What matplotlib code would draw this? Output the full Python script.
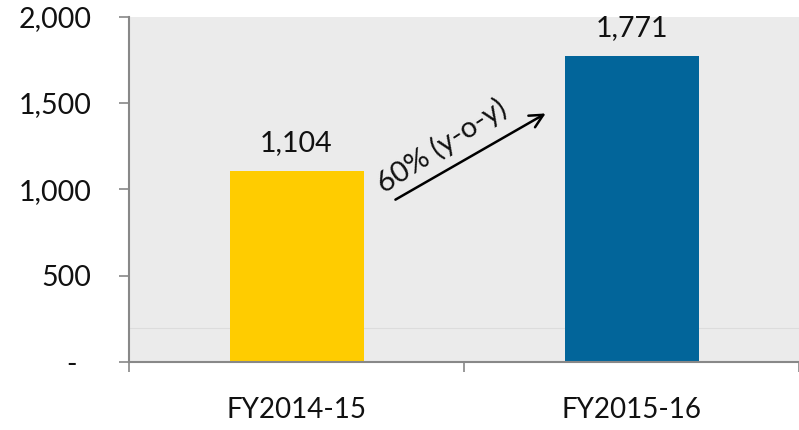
import matplotlib.pyplot as plt

years = ["FY2014-15", "FY2015-16"]
values = [1104, 1771]
colors = ["#FFCC00", "#02659A"]
yticks = [0, 500, 1000, 1500, 2000]
ytick_labels = ["-  ", "500", "1,000", "1,500", "2,000"]

plt.rcParams['font.family'] = ['Lato', 'DejaVu Sans']

fig = plt.figure(figsize=(7.99, 4.30), dpi=100)
ax = fig.add_axes([0.1615, 0.158, 0.8385, 0.8036])
ax.set_facecolor("#ebebeb")

x = list(range(len(years)))
bars = ax.bar(x, values, width=0.40, color=colors, zorder=3)
for xi, v in zip(x, values):
    ax.annotate(f"{v:,}", (xi, v), xytext=(0, 11), textcoords="offset points",
                ha="center", va="bottom", fontsize=20.5, color="#111111")

# faint line seen in the original plot area
ax.axhline(200, color="#dcdcdc", lw=0.8, zorder=1)

ax.set_xlim(-0.5, 1.5)
ax.set_ylim(0, 2000)
ax.set_yticks(yticks)
ax.set_yticklabels(ytick_labels)
ax.set_xticks([-0.5, 0.5, 1.5])
ax.set_xticklabels([])
ax.set_xticks(x, minor=True)
ax.set_xticklabels(years, minor=True)

ax.tick_params(axis="y", length=7, width=1.2, color="#888888", pad=20,
               labelsize=20.5, labelcolor="#111111")
ax.tick_params(axis="x", which="major", length=7, width=1.2, color="#888888")
ax.tick_params(axis="x", which="minor", length=0, pad=25, labelsize=20,
               labelcolor="#111111")

for s in ["top", "right"]:
    ax.spines[s].set_visible(False)
for s in ["left", "bottom"]:
    ax.spines[s].set_color("#888888")
    ax.spines[s].set_linewidth(1.5)
    ax.spines[s].set_zorder(4)

# growth arrow
ax.annotate("", xy=(0.751, 1447), xytext=(0.288, 932),
            arrowprops=dict(arrowstyle="->", color="black", lw=1.8,
                            mutation_scale=24), zorder=5)
ax.text(0.435, 1250, "60% (y-o-y)", rotation=33, ha="center", va="center",
        fontsize=21, color="#111111", rotation_mode="anchor", zorder=5)

fig.savefig("out.png", dpi=100)
